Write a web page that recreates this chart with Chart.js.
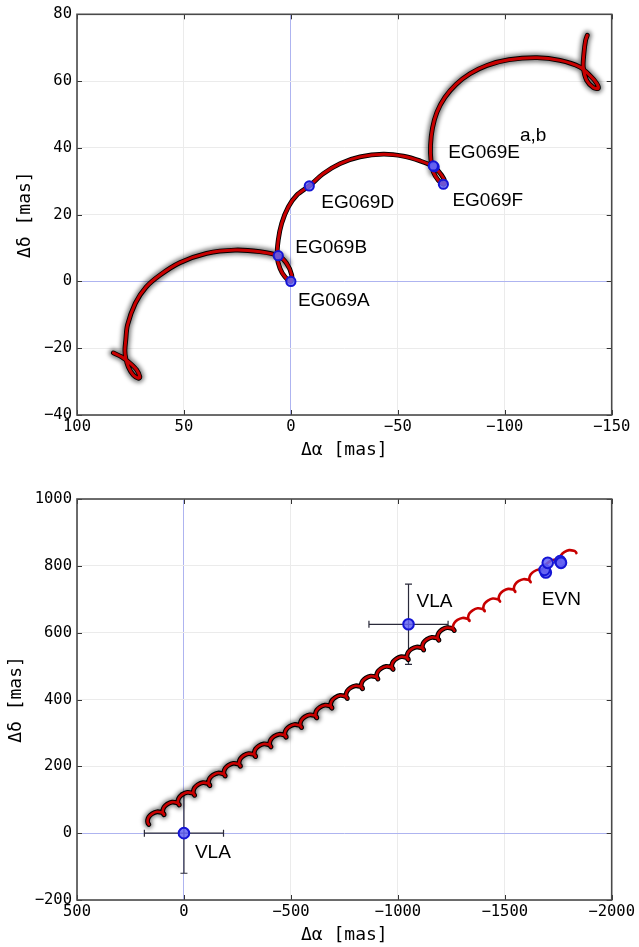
<!DOCTYPE html>
<html>
<head>
<meta charset="utf-8">
<script src="https://cdn.jsdelivr.net/npm/chart.js@4.4.0/dist/chart.umd.min.js"></script>
<style>
html, body { margin: 0; padding: 0; background: #fff; }
#wrap { position: relative; width: 639px; height: 947px; }
#c1 { position: absolute; left: 0; top: 0; }
#c2 { position: absolute; left: 0; top: 470px; }
</style>
</head>
<body>
<div id="wrap">
  <canvas id="c1" width="639" height="470"></canvas>
  <canvas id="c2" width="639" height="477"></canvas>
</div>
<script>
// ---------- Upper panel: EVN epochs and the model track around them (mas) ----------
const trackRA = [83.0, 79.1, 75.2, 72.1, 70.6, 71.3, 73.7, 76.0, 77.2, 77.6, 77.2, 76.4, 72.7, 67.7, 61.2, 51.9, 39.4, 26.1, 14.5, 5.9,
  2.0, -0.4, 0, 2.8, 5.1, 6.4, 5.9, 4.3, 1.2, -2.7, -8.6, -15.2, -23.0, -32.3, -43.2, -52.6, -60.4, -67.0, -70.5, -72.0,
  -71.3, -68.9, -66.6, -65.5, -65.3, -66.2, -68.3, -72.0, -77.2, -83.7, -91.7, -102.0, -115.1, -125.8, -135.2, -139.8, -143.0, -143.7, -141.4, -138.3,
  -136.7, -137.0, -137.8, -138.6];
const trackDec = [-21.4, -22.6, -24.5, -26.5, -28.6, -29.0, -28.0, -25.6, -23.0, -20.6, -17.6, -13.1, -6.5, -1.7, 1.9, 5.6, 8.4, 9.4, 8.9, 7.7,
  5.4, 1.9, 0, 1.4, 3.9, 7.4, 12.4, 17.4, 22.3, 25.8, 28.6, 32.3, 35.3, 37.3, 38.1, 37.5, 36.1, 34.3, 31.8, 29.8,
  29.1, 30.3, 32.8, 36.3, 40.8, 45.9, 50.7, 55.1, 59.0, 62.2, 64.7, 66.4, 67.0, 66.2, 64.2, 61.7, 59.3, 57.8, 58.1, 60.2,
  64.2, 68.2, 72.2, 73.7];

const epochNames = ['EG069A', 'EG069B', 'EG069D', 'EG069E', 'EG069E', 'EG069F'];
const epochRA = [0, 5.9, -8.6, -67.0, -66.6, -71.3];
const epochDec = [0, 7.7, 28.6, 34.3, 34.6, 29.1];

// ---------- Lower panel: VLA / EVN positions and the long-term track (mas) ----------
const longRA = [
  164, 169, 170, 164, 149, 126, 104, 94,
  93, 98, 99, 93, 78, 55, 33, 23,
  22, 27, 28, 22, 7, -16, -38, -48,
  -50, -45, -44, -50, -65, -88, -110, -120,
  -121, -116, -115, -121, -136, -159, -181, -191,
  -193, -188, -187, -193, -208, -231, -253, -263,
  -264, -259, -258, -264, -279, -302, -324, -334,
  -335, -330, -329, -335, -350, -373, -395, -405,
  -407, -402, -401, -407, -422, -445, -467, -477,
  -478, -473, -472, -478, -493, -516, -538, -548,
  -550, -545, -544, -550, -565, -588, -610, -620,
  -621, -616, -615, -621, -636, -659, -681, -691,
  -692, -687, -686, -692, -707, -730, -752, -762,
  -764, -759, -758, -764, -779, -802, -824, -834,
  -835, -830, -829, -835, -850, -873, -895, -905,
  -907, -902, -901, -907, -922, -945, -967, -977,
  -978, -973, -972, -978, -993, -1016, -1038, -1048,
  -1049, -1044, -1043, -1049, -1064, -1087, -1109, -1119,
  -1121, -1116, -1115, -1121, -1136, -1159, -1181, -1191,
  -1192, -1187, -1186, -1192, -1207, -1230, -1252, -1262,
  -1264, -1259, -1258, -1264, -1279, -1302, -1324, -1334,
  -1335, -1330, -1329, -1335, -1350, -1373, -1395, -1405,
  -1406, -1401, -1400, -1406, -1421, -1444, -1466, -1476,
  -1478, -1473, -1472, -1478, -1493, -1516, -1538, -1548,
  -1549, -1544, -1543, -1549, -1564, -1587, -1609, -1619,
  -1621, -1616, -1615, -1621, -1636, -1659, -1681, -1691,
  -1692, -1687, -1686, -1692, -1707, -1730, -1752, -1762,
  -1763, -1758, -1757, -1763, -1778, -1801, -1823, -1833,
  -1835];
const longDec = [
  26, 31, 39, 49, 58, 64, 62, 58,
  55, 60, 68, 78, 87, 93, 91, 87,
  84, 89, 97, 107, 116, 122, 120, 116,
  113, 118, 126, 136, 145, 151, 149, 145,
  142, 147, 155, 165, 174, 180, 178, 174,
  171, 176, 184, 194, 203, 209, 207, 203,
  200, 205, 213, 223, 232, 238, 236, 232,
  229, 234, 242, 252, 261, 267, 265, 261,
  258, 263, 271, 281, 290, 296, 294, 290,
  287, 292, 300, 310, 319, 325, 323, 319,
  316, 321, 329, 339, 348, 354, 352, 348,
  345, 350, 358, 368, 377, 383, 381, 377,
  374, 379, 387, 397, 406, 412, 410, 406,
  403, 408, 416, 426, 435, 441, 439, 435,
  432, 437, 445, 455, 464, 470, 468, 464,
  461, 466, 474, 484, 493, 499, 497, 493,
  490, 495, 503, 513, 522, 528, 526, 522,
  519, 524, 532, 542, 551, 557, 555, 551,
  548, 553, 561, 571, 580, 586, 584, 580,
  577, 582, 590, 600, 609, 615, 613, 609,
  606, 611, 619, 629, 638, 644, 642, 638,
  635, 640, 648, 658, 667, 673, 671, 667,
  664, 669, 677, 687, 696, 702, 700, 696,
  693, 698, 706, 716, 725, 731, 729, 725,
  722, 727, 735, 745, 754, 760, 758, 754,
  751, 756, 764, 774, 783, 789, 787, 783,
  780, 785, 793, 803, 812, 818, 816, 812,
  809, 814, 822, 832, 841, 847, 845, 841,
  838];

const vlaRA = [0, -1050];
const vlaDec = [0, 625];
const vlaErrRA = [185, 185];
const vlaErrDec = [120, 120];

const evnRA = [-1692, -1686, -1701, -1759, -1763];
const evnDec = [780, 788, 809, 814, 809];

// ---------- helpers ----------
const MONO = '"DejaVu Sans Mono", monospace';
const SANS = '"Liberation Sans", Arial, sans-serif';
const RED = '#c80000';
const toPts = (xs, ys) => xs.map((x, i) => ({ x: x, y: ys[i] }));
const fmt = v => (v < 0 ? '\u2212' + Math.abs(v) : String(v));

// blurred halo under selected line datasets
const hazePlugin = {
  id: 'haze',
  beforeDatasetDraw(chart, args) {
    const ds = chart.data.datasets[args.index];
    if (ds.haze) { chart.ctx.save(); chart.ctx.filter = 'blur(' + ds.haze + 'px)'; }
  },
  afterDatasetDraw(chart, args) {
    const ds = chart.data.datasets[args.index];
    if (ds.haze) chart.ctx.restore();
  }
};

// closed frame with inward tick marks on all four sides
const framePlugin = {
  id: 'frame',
  afterDatasetsDraw(chart) {
    const { ctx, chartArea: a, scales } = chart;
    ctx.save();
    ctx.strokeStyle = '#333';
    ctx.lineWidth = 1;
    ctx.beginPath();
    scales.x.ticks.forEach(t => {
      const p = Math.round(scales.x.getPixelForValue(t.value)) + 0.5;
      ctx.moveTo(p, a.bottom); ctx.lineTo(p, a.bottom - 5);
      ctx.moveTo(p, a.top); ctx.lineTo(p, a.top + 5);
    });
    scales.y.ticks.forEach(t => {
      const p = Math.round(scales.y.getPixelForValue(t.value)) + 0.5;
      ctx.moveTo(a.left, p); ctx.lineTo(a.left + 5, p);
      ctx.moveTo(a.right, p); ctx.lineTo(a.right - 5, p);
    });
    ctx.stroke();
    ctx.strokeStyle = '#4a4a4a';
    ctx.lineWidth = 1.6;
    ctx.strokeRect(a.left, a.top, a.right - a.left, a.bottom - a.top);
    ctx.restore();
  }
};

// text tags placed next to data points
const tagPlugin = {
  id: 'tags',
  afterDatasetsDraw(chart, args, opts) {
    const { ctx, scales } = chart;
    ctx.save();
    ctx.font = '19px ' + SANS;
    ctx.fillStyle = '#000';
    ctx.textBaseline = 'middle';
    ctx.textAlign = 'left';
    (opts.items || []).forEach(it => {
      const px = scales.x.getPixelForValue(it.x) + it.dx;
      const py = scales.y.getPixelForValue(it.y) + it.dy;
      ctx.fillText(it.text, px, py);
      if (it.sup) ctx.fillText(it.sup, px + ctx.measureText(it.text).width, py - 17);
    });
    ctx.restore();
  }
};

// error bars with caps, drawn beneath the datasets
const errPlugin = {
  id: 'errbars',
  beforeDatasetsDraw(chart, args, opts) {
    const { ctx, scales } = chart;
    const items = opts.items || [];
    ctx.save();
    ctx.strokeStyle = '#2a2a3a';
    ctx.lineWidth = 1.2;
    ctx.beginPath();
    items.forEach(it => {
      const cx = scales.x.getPixelForValue(it.x), cy = scales.y.getPixelForValue(it.y);
      const x1 = scales.x.getPixelForValue(it.x - it.ex), x2 = scales.x.getPixelForValue(it.x + it.ex);
      const y1 = scales.y.getPixelForValue(it.y - it.ey), y2 = scales.y.getPixelForValue(it.y + it.ey);
      ctx.moveTo(x1, cy); ctx.lineTo(x2, cy);
      ctx.moveTo(cx, y1); ctx.lineTo(cx, y2);
      ctx.moveTo(x1, cy - 3.5); ctx.lineTo(x1, cy + 3.5);
      ctx.moveTo(x2, cy - 3.5); ctx.lineTo(x2, cy + 3.5);
      ctx.moveTo(cx - 3.5, y1); ctx.lineTo(cx + 3.5, y1);
      ctx.moveTo(cx - 3.5, y2); ctx.lineTo(cx + 3.5, y2);
    });
    ctx.stroke();
    ctx.restore();
  }
};

// zero lines in pale blue, the rest of the grid in light grey
function gridColor(c) {
  return c.tick && Math.abs(c.tick.value) < 1e-9 ? '#aeb4f0' : '#ebebeb';
}

function xAxis(min, max, step, height, titlePad) {
  return {
    type: 'linear', min: min, max: max, reverse: true,
    afterFit: s => { s.height = height; },
    grid: { color: gridColor, lineWidth: 1, drawTicks: false },
    border: { display: false },
    ticks: { stepSize: step, callback: fmt, color: '#000', padding: 3, maxRotation: 0, autoSkip: false,
             font: { family: MONO, size: 15.5 } },
    title: { display: true, text: '\u0394\u03b1 [mas]', color: '#000',
             font: { family: MONO, size: 18 }, padding: { top: 0, bottom: titlePad } }
  };
}

function yAxis(min, max, step, titlePad) {
  return {
    type: 'linear', min: min, max: max,
    afterFit: s => { s.width = 77; },
    grid: { color: gridColor, lineWidth: 1, drawTicks: false },
    border: { display: false },
    ticks: { stepSize: step, callback: fmt, color: '#000', padding: 5, autoSkip: false,
             font: { family: MONO, size: 15.5 } },
    title: { display: true, text: '\u0394\u03b4 [mas]', color: '#000',
             font: { family: MONO, size: 18 }, padding: { top: titlePad, bottom: 0 } }
  };
}

function lineSet(pts, color, width, order, haze) {
  return { type: 'scatter', data: pts, showLine: true, borderColor: color, borderWidth: width,
           pointRadius: 0, pointHoverRadius: 0, tension: 0.3, order: order, haze: haze || 0,
           borderCapStyle: 'round', borderJoinStyle: 'round', fill: false };
}

function markerSet(pts, radius, order) {
  return { type: 'scatter', data: pts, showLine: false, pointRadius: radius, pointHoverRadius: radius,
           pointStyle: 'circle', backgroundColor: 'rgba(100,100,245,0.85)', borderColor: '#1515d5',
           borderWidth: 2, order: order };
}

Chart.defaults.animation = false;

// ---------- upper chart ----------
const track = toPts(trackRA, trackDec);
new Chart(document.getElementById('c1'), {
  type: 'scatter',
  data: {
    datasets: [
      markerSet(toPts(epochRA, epochDec), 4.6, 0),
      lineSet(track, RED, 3, 1),
      lineSet(track, '#000', 4.8, 2),
      lineSet(track.slice(0, 21), 'rgba(0,0,0,0.5)', 9, 3, 2.2),
      lineSet(track.slice(42), 'rgba(0,0,0,0.5)', 9, 3, 2.2)
    ]
  },
  options: {
    responsive: false,
    layout: { padding: { left: 0, right: 27.3, top: 14, bottom: 0 } },
    scales: { x: xAxis(-150, 100, 50, 55, 9.2), y: yAxis(-40, 80, 20, 14.9) },
    plugins: {
      legend: { display: false },
      tooltip: { enabled: false },
      tags: { items: [
        { text: epochNames[0], x: epochRA[0], y: epochDec[0], dx: 7, dy: 19 },
        { text: epochNames[1], x: epochRA[1], y: epochDec[1], dx: 17, dy: -8 },
        { text: epochNames[2], x: epochRA[2], y: epochDec[2], dx: 12, dy: 17 },
        { text: epochNames[3], x: epochRA[3], y: epochDec[3], dx: 14, dy: -14, sup: 'a,b' },
        { text: epochNames[5], x: epochRA[5], y: epochDec[5], dx: 9, dy: 17 }
      ] }
    }
  },
  plugins: [hazePlugin, errPlugin, framePlugin, tagPlugin]
});

// ---------- lower chart ----------
const longTrack = toPts(longRA, longDec);
new Chart(document.getElementById('c2'), {
  type: 'scatter',
  data: {
    datasets: [
      markerSet(toPts(evnRA, evnDec), 5.3, 0),
      markerSet(toPts(vlaRA, vlaDec), 5.3, 0),
      lineSet(longTrack, RED, 2.6, 1),
      lineSet(longTrack.slice(0, 162), '#000', 4.8, 2),
      lineSet(longTrack.slice(0, 100), 'rgba(0,0,0,0.5)', 8, 3, 2)
    ]
  },
  options: {
    responsive: false,
    layout: { padding: { left: 0, right: 27.3, top: 29, bottom: 0 } },
    scales: { x: xAxis(-2000, 500, 500, 47, 1.2), y: yAxis(-200, 1000, 200, 5.9) },
    plugins: {
      legend: { display: false },
      tooltip: { enabled: false },
      errbars: { items: vlaRA.map((x, i) => ({ x: x, y: vlaDec[i], ex: vlaErrRA[i], ey: vlaErrDec[i] })) },
      tags: { items: [
        { text: 'VLA', x: vlaRA[0], y: vlaDec[0], dx: 11, dy: 19.5 },
        { text: 'VLA', x: vlaRA[1], y: vlaDec[1], dx: 8, dy: -22.6 },
        { text: 'EVN', x: evnRA[0], y: evnDec[0], dx: -4, dy: 27 }
      ] }
    }
  },
  plugins: [hazePlugin, errPlugin, framePlugin, tagPlugin]
});
</script>
</body>
</html>
